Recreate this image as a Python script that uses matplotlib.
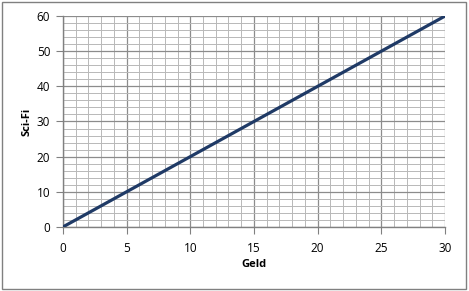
import matplotlib
matplotlib.use("Agg")
import matplotlib.pyplot as plt
from matplotlib.patches import Rectangle
from matplotlib.ticker import MultipleLocator

# data
geld = [0, 30]
scifi = [0, 60]
x_ticks = [0, 5, 10, 15, 20, 25, 30]
y_ticks = [0, 10, 20, 30, 40, 50, 60]

plt.rcParams['font.family'] = ['Open Sans', 'DejaVu Sans']

fig = plt.figure(figsize=(4.69, 2.91), dpi=100)
# outer border like Excel chart area
fig.patches.append(Rectangle((0.005, 0.008), 0.989, 0.985, transform=fig.transFigure,
                             fill=False, edgecolor='#808080', linewidth=1))
ax = fig.add_axes([0.134, 0.22, 0.815, 0.725])

ax.plot(geld, scifi, color='#1f3a66', linewidth=2.3, solid_capstyle='round', zorder=3)

ax.set_xlim(0, 30)
ax.set_ylim(0, 60)
ax.set_xticks(x_ticks)
ax.set_yticks(y_ticks)
ax.xaxis.set_minor_locator(MultipleLocator(1))
ax.yaxis.set_minor_locator(MultipleLocator(2))
ax.grid(which='major', color='#8c8c8c', linewidth=0.9)
ax.grid(which='minor', color='#b8b8b8', linewidth=0.7)
ax.set_axisbelow(True)

for s in ['top', 'right']:
    ax.spines[s].set_visible(False)
for s in ['left', 'bottom']:
    ax.spines[s].set_color('#808080')
    ax.spines[s].set_linewidth(1)

ax.tick_params(which='major', length=5, color='#808080', labelsize=8.5)
ax.tick_params(axis='x', pad=6)
ax.tick_params(axis='y', pad=4)
ax.tick_params(which='minor', length=0)

ax.set_xlabel('Geld', fontsize=8, fontweight='bold', labelpad=3)
ax.set_ylabel('Sci-Fi', fontsize=8, fontweight='bold', labelpad=3)

fig.savefig('out.png', dpi=100)
